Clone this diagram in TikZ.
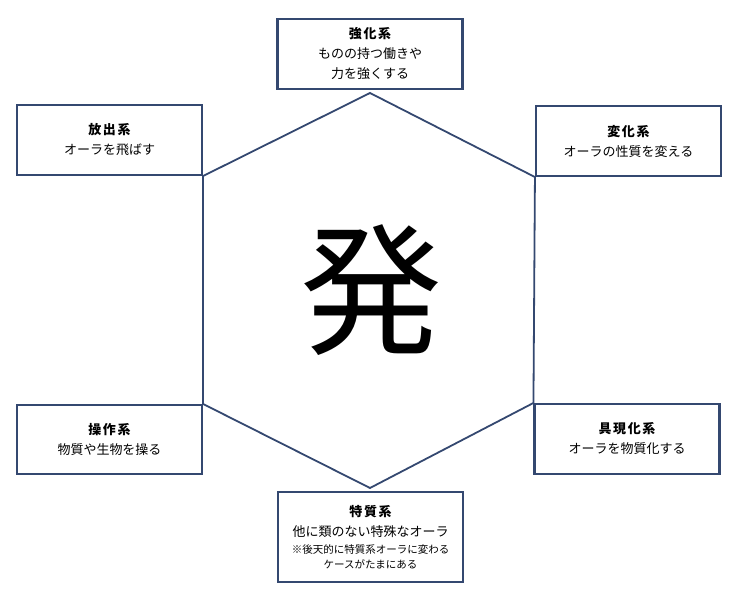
\documentclass[tikz,border=0pt]{standalone}
\usepackage{fontspec}
\setmainfont{Noto Sans CJK JP}
\definecolor{bordure}{RGB}{52,72,112}
\newcommand\titre[1]{{\bfseries\addfontfeature{LetterSpace=12}#1}}
\tikzset{
  boite/.style={draw=bordure, line width=2.1pt, rectangle, inner sep=0pt,
    minimum width=185pt, align=center, font=\fontsize{13}{20}\selectfont},
  hexa/.style={draw=bordure, line width=1.8pt, line join=miter}
}
\begin{document}
\begin{tikzpicture}[x=1pt,y=-1pt]
			\useasboundingbox (0,0) rectangle (740,599);

			% Les boites
			\node[boite, minimum height=70pt] (kyouka) at (370,54)
			{\titre{強化系}\\ものの持つ働きや\\力を強くする};
			\node[boite, minimum height=70pt] (houshutsu) at (109.5,140)
			{\titre{放出系}\\オーラを飛ばす};
			\node[boite, minimum height=70pt] (henka) at (628.5,141)
			{\titre{変化系}\\オーラの性質を変える};
			\node[boite, minimum height=69pt] (sousa) at (109.5,439.5)
			{\titre{操作系}\\物質や生物を操る};
			\node[boite, minimum height=70pt] (gugenka) at (627,439)
			{\titre{具現化系}\\オーラを物質化する};
			\node[boite, minimum height=90pt] (tokushitsu) at (370.5,537)
			{\titre{特質系}\\他に類のない特殊なオーラ\\[-3pt]
			{\fontsize{10.5}{15}\selectfont ※後天的に特質系オーラに変わる}\\[-5pt]
			{\fontsize{10.5}{15}\selectfont ケースがたまにある}};

			% Le centre
			\node[font=\fontsize{142}{142}\selectfont] (hatsu) at (371,290) {発};

			% L'hexagone
			\coordinate (haut) at (370,93);
			\coordinate (bas) at (370,488);
			\draw[hexa] (houshutsu.south east) -- (haut) -- (henka.south west)
			-- (gugenka.north west) -- (bas) -- (sousa.north east) -- cycle;
		\end{tikzpicture}
\end{document}
